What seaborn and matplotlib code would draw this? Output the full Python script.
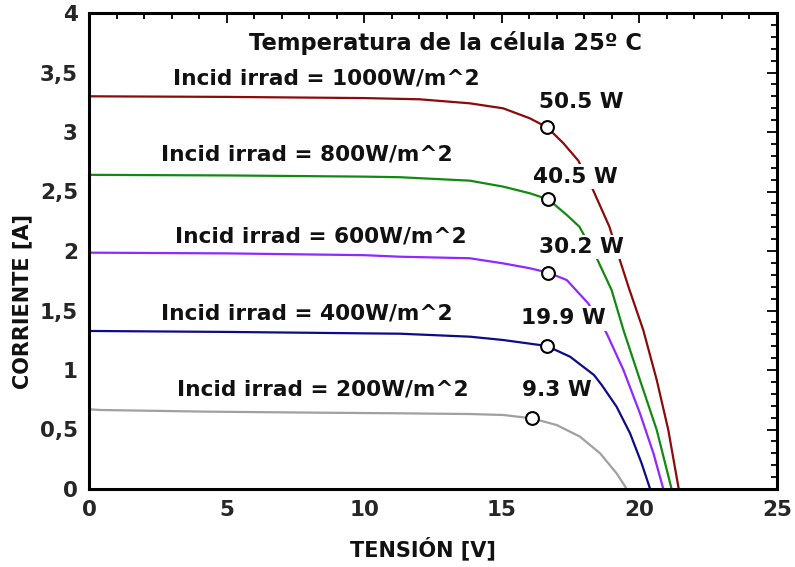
#!/usr/bin/env python3

import matplotlib
matplotlib.use("Agg")
import matplotlib.pylab as plt
from matplotlib.ticker import MultipleLocator, FuncFormatter
import pandas as pd
import seaborn as sns

# I-V curves (voltage in V, current in A)
v1000 = [0, 5, 10, 12, 13.84, 15.05, 16.02, 16.65, 17.24, 17.78, 18.30, 18.91,
         19.29, 19.63, 20.14, 20.63, 21.05, 21.43]
i1000 = [3.30, 3.295, 3.285, 3.275, 3.241, 3.199, 3.115, 3.039, 2.905, 2.759, 2.521, 2.204,
         1.924, 1.68, 1.336, 0.916, 0.496, 0.0]

v800 = [0, 5, 10, 11.3, 13.84, 15.05, 16.02, 16.69, 17.36, 17.82, 18.45, 18.99,
        19.42, 20.02, 20.63, 21.17]
i800 = [2.64, 2.635, 2.625, 2.62, 2.591, 2.541, 2.485, 2.434, 2.303, 2.204, 1.939, 1.672,
        1.336, 0.916, 0.496, 0.0]

v600 = [0, 5, 10, 11.3, 13.84, 15.05, 16.02, 16.69, 17.36, 18.14, 18.81, 19.42,
        20.02, 20.51, 20.87]
i600 = [1.986, 1.98, 1.965, 1.952, 1.939, 1.896, 1.855, 1.818, 1.756, 1.56, 1.308, 1.0,
        0.636, 0.30, 0.0]

v400 = [0, 5, 10, 11.3, 13.84, 15.05, 16.63, 17.48, 18.35, 18.63, 19.17, 19.66,
        20.08, 20.39]
i400 = [1.328, 1.32, 1.308, 1.305, 1.280, 1.252, 1.202, 1.112, 0.958, 0.874, 0.692, 0.468,
        0.216, 0.0]

v200 = [0, 0.4, 4.3, 8.5, 11.3, 13.84, 15.05, 16.09, 16.99, 17.84, 18.57, 19.17, 19.54]
i200 = [0.67, 0.664, 0.65, 0.641, 0.636, 0.630, 0.622, 0.594, 0.538, 0.44, 0.30, 0.132, 0.0]

irradiances = ["1000", "800", "600", "400", "200"]

# maximum power points
mpp_v = [16.65, 16.69, 16.69, 16.63, 16.09]
mpp_i = [3.039, 2.434, 1.818, 1.202, 0.594]
mpp_labels = ["50.5 W", "40.5 W", "30.2 W", "19.9 W", "9.3 W"]

x_ticks = [0, 5, 10, 15, 20, 25]
y_ticks = [0, 0.5, 1, 1.5, 2, 2.5, 3, 3.5, 4]

colors = {
    "1000": "#8b0a0a",
    "800": "#128a12",
    "600": "#9028ff",
    "400": "#0c0c8a",
    "200": "#a0a0a0",
}

sns.set_style("white")
plt.rcParams["font.family"] = ["DejaVu Sans"]
plt.rcParams["font.weight"] = "bold"


def main():
    rows = []
    for irr, vs, cs in zip(irradiances, [v1000, v800, v600, v400, v200],
                           [i1000, i800, i600, i400, i200]):
        for v, c in zip(vs, cs):
            rows.append({"irr": irr, "v": v, "i": c})
    df = pd.DataFrame(rows)
    mpp = pd.DataFrame({"v": mpp_v, "i": mpp_i})

    fig = plt.figure(figsize=(7.95, 5.67), dpi=100)
    ax = fig.add_axes([89 / 795, 1 - 489 / 567, 688 / 795, 476 / 567])

    sns.lineplot(data=df, x="v", y="i", hue="irr", hue_order=irradiances,
                 palette=colors, sort=False, estimator=None, linewidth=1.6,
                 legend=False, ax=ax, zorder=2)
    sns.scatterplot(data=mpp, x="v", y="i", s=85, facecolor="white",
                    edgecolor="black", linewidth=1.5, ax=ax, zorder=4)

    # curve labels
    irr_pos = [(8.63, 3.45), (7.91, 2.81), (8.43, 2.12), (7.91, 1.476), (8.48, 0.832)]
    for irr, (x, y) in zip(irradiances, irr_pos):
        ax.text(x, y, f"Incid irrad = {irr}W/m^2", ha="center", va="center",
                fontsize=15.6, fontweight="bold", color="#111111", zorder=5)

    pw_pos = [(17.88, 3.255), (17.66, 2.625), (17.88, 2.036), (17.22, 1.434), (17.0, 0.832)]
    for lab, (x, y) in zip(mpp_labels, pw_pos):
        ax.text(x, y, lab, ha="center", va="center", fontsize=15.6,
                fontweight="bold", color="#111111", zorder=3,
                bbox=dict(facecolor="white", edgecolor="none", pad=1.5))

    ax.text(12.97, 3.75, "Temperatura de la célula 25º C", ha="center",
            va="center", fontsize=16.3, fontweight="bold", color="#111111", zorder=5)

    ax.set_xlim(0, 25)
    ax.set_ylim(0, 4)
    ax.set_xticks(x_ticks)
    ax.set_yticks(y_ticks)
    ax.xaxis.set_minor_locator(MultipleLocator(1))
    ax.yaxis.set_minor_locator(MultipleLocator(0.1))
    ax.yaxis.set_major_formatter(FuncFormatter(lambda v, p: f"{v:g}".replace(".", ",")))
    ax.tick_params(which="both", direction="in", top=True, right=True,
                   color="black", width=1.3)
    ax.tick_params(which="major", length=7, labelsize=15.5, pad=8)
    ax.tick_params(which="minor", length=4)
    for lab in ax.get_xticklabels() + ax.get_yticklabels():
        lab.set_fontweight("bold")

    for sp in ax.spines.values():
        sp.set_linewidth(2.2)
        sp.set_color("black")

    ax.set_xlabel("TENSIÓN [V]", fontsize=15, fontweight="bold", color="#111111")
    ax.set_ylabel("CORRIENTE [A]", fontsize=15, fontweight="bold", color="#111111")
    ax.xaxis.set_label_coords(0.486, -0.1)
    ax.yaxis.set_label_coords(-0.082, 0.393)

    fig.savefig("out.png", dpi=100)


if __name__ == "__main__":
    main()
